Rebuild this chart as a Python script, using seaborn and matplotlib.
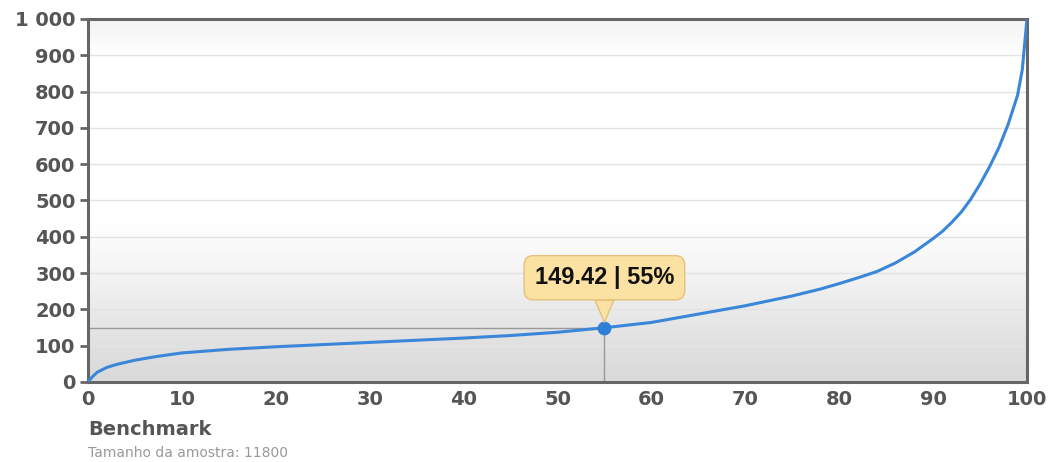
import numpy as np
import pandas as pd
import matplotlib
matplotlib.use('Agg')
import matplotlib.pyplot as plt
from matplotlib.colors import LinearSegmentedColormap
from matplotlib.ticker import FuncFormatter
import seaborn as sns

# --- data ---
percentile = [0, 0.5, 1, 2, 3, 5, 7, 10, 15, 20, 25, 30, 35, 40, 45, 50, 55,
              60, 65, 70, 75, 78, 80, 82, 84, 86, 88, 90, 91, 92, 93, 94, 95, 96,
              97, 98, 99, 99.5, 100]
score = [0, 15, 27, 40, 48, 60, 69, 80, 90, 97, 103, 109, 115, 121, 128, 137, 149.42,
         164, 187, 210, 237, 256, 271, 287, 304, 328, 358, 395, 415, 440, 468, 503, 545,
         592, 645, 710, 790, 860, 1000]
x_ticks = [0, 10, 20, 30, 40, 50, 60, 70, 80, 90, 100]
y_ticks = [0, 100, 200, 300, 400, 500, 600, 700, 800, 900, 1000]
hl_x = 55
hl_y = 149.42
tip_label = "149.42 | 55%"
x_title = "Benchmark"
sample_note = "Tamanho da amostra: 11800"

df = pd.DataFrame({'percentile': percentile, 'score': score})

sns.set_style("white")
plt.rcParams['font.family'] = ['DejaVu Sans']

fig = plt.figure(figsize=(10.56, 4.62), dpi=100)
ax = fig.add_axes([0.0833, 0.1732, 0.8892, 0.7857])

# background gradient (white in the middle, grey toward the bottom)
cmap = LinearSegmentedColormap.from_list(
    "bg", [(0.0, "#d9d9d9"), (0.12, "#e2e2e2"), (0.32, "#f6f6f6"),
           (0.45, "#ffffff"), (0.9, "#ffffff"), (1.0, "#f3f3f3")])
grad = np.linspace(0, 1, 256).reshape(-1, 1)
ax.imshow(grad, aspect='auto', cmap=cmap, origin='lower',
          extent=[0, 1, 0, 1], transform=ax.transAxes, zorder=0)

for yv in y_ticks[1:-1]:
    ax.axhline(yv, color="#e3e3e3", lw=1, zorder=1)

# crosshair
ax.plot([0, hl_x], [hl_y, hl_y], color="#999999", lw=1, zorder=2)
ax.plot([hl_x, hl_x], [0, hl_y], color="#999999", lw=1, zorder=2)

sns.lineplot(data=df, x='percentile', y='score', color="#3a86d9", lw=2.2,
             ax=ax, zorder=3)
ax.scatter([hl_x], [hl_y], s=80, color="#2f7ed8", zorder=4)

ax.annotate(tip_label, xy=(hl_x, hl_y), xytext=(0, 36), textcoords='offset points',
            ha='center', va='center', fontsize=17, fontweight='bold',
            family=['Liberation Sans', 'DejaVu Sans'], color="#111111", zorder=5,
            bbox=dict(boxstyle="round,pad=0.45,rounding_size=0.4",
                      fc="#fbe2a2", ec="#e2c27e", lw=1),
            arrowprops=dict(arrowstyle="wedge,tail_width=0.8,shrink_factor=0.5",
                            fc="#fbe2a2", ec="#e2c27e", lw=1,
                            shrinkA=0, shrinkB=4))

ax.set_xlim(0, 100)
ax.set_ylim(0, 1000)
ax.set_xticks(x_ticks)
ax.set_yticks(y_ticks)
ax.yaxis.set_major_formatter(FuncFormatter(lambda v, p: f"{int(v):,}".replace(",", " ")))
ax.set_xlabel("")
ax.set_ylabel("")

for sp in ax.spines.values():
    sp.set_visible(True)
    sp.set_color("#666666")
    sp.set_linewidth(2.2)

ax.tick_params(axis='y', length=6, width=2, color="#666666", pad=3,
               labelsize=14, labelcolor="#555555", direction='out', left=True)
ax.tick_params(axis='x', length=0, pad=6, labelsize=14, labelcolor="#555555")
for lbl in ax.get_xticklabels() + ax.get_yticklabels():
    lbl.set_fontweight('bold')

fig.text(0.0833, 0.07, x_title, fontsize=14, fontweight='bold', color="#555555",
         ha='left', va='center')
fig.text(0.0833, 0.02, sample_note, fontsize=10, color="#999999",
         ha='left', va='center')

fig.savefig("out.png", dpi=100)
